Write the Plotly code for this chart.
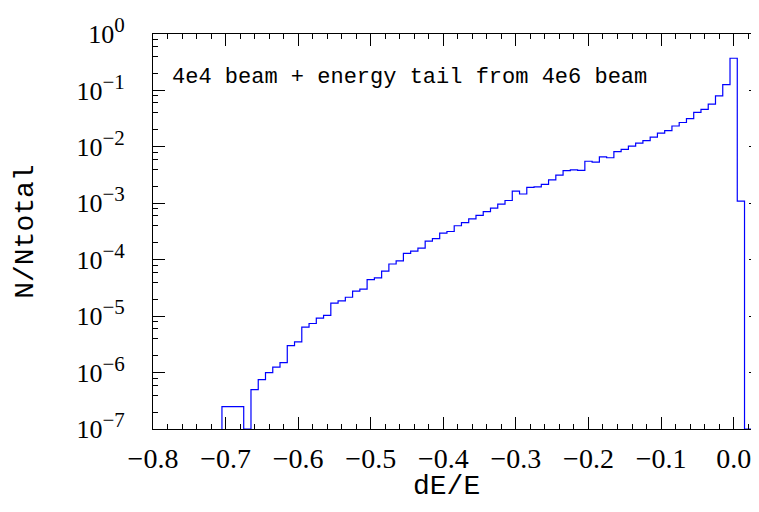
import numpy as np
import plotly.graph_objects as go

# Histogram of dE/E (bin width 0.01), fraction of particles per bin
bin_centers = [-0.70, -0.69, -0.68, -0.67, -0.66, -0.65, -0.64, -0.63, -0.62, -0.61,
               -0.60, -0.59, -0.58, -0.57, -0.56, -0.55, -0.54, -0.53, -0.52, -0.51,
               -0.50, -0.49, -0.48, -0.47, -0.46, -0.45, -0.44, -0.43, -0.42, -0.41,
               -0.40, -0.39, -0.38, -0.37, -0.36, -0.35, -0.34, -0.33, -0.32, -0.31,
               -0.30, -0.29, -0.28, -0.27, -0.26, -0.25, -0.24, -0.23, -0.22, -0.21,
               -0.20, -0.19, -0.18, -0.17, -0.16, -0.15, -0.14, -0.13, -0.12, -0.11,
               -0.10, -0.09, -0.08, -0.07, -0.06, -0.05, -0.04, -0.03, -0.02, -0.01,
               0.00, 0.01, 0.02, 0.03]
fractions = [2.5e-7, 2.5e-7, 2.5e-7, 0.0, 5.0e-7, 7.5e-7, 1.0e-6, 1.25e-6, 1.5e-6, 3.0e-6,
             3.5e-6, 6.4e-6, 7.4e-6, 9.2e-6, 1.03e-5, 1.7e-5, 1.87e-5, 2.16e-5, 2.77e-5, 3.0e-5,
             4.45e-5, 4.76e-5, 6.27e-5, 8.4e-5, 9.5e-5, 1.29e-4, 1.42e-4, 1.6e-4, 2.13e-4, 2.37e-4,
             2.96e-4, 3.16e-4, 4.0e-4, 4.56e-4, 5.28e-4, 6.1e-4, 7.14e-4, 8.24e-4, 9.66e-4, 1.12e-3,
             1.64e-3, 1.46e-3, 1.92e-3, 1.96e-3, 2.16e-3, 2.59e-3, 3.15e-3, 3.8e-3, 3.9e-3, 3.84e-3,
             5.56e-3, 5.35e-3, 6.67e-3, 6.41e-3, 8.25e-3, 9.0e-3, 1.03e-2, 1.16e-2, 1.29e-2, 1.49e-2,
             1.75e-2, 1.94e-2, 2.34e-2, 2.7e-2, 3.17e-2, 4.08e-2, 4.6e-2, 5.74e-2, 8.0e-2, 0.127,
             0.372, 1.09e-3, 0.0, 0.0]
bin_width = 0.01

x_tick_vals = [-0.8, -0.7, -0.6, -0.5, -0.4, -0.3, -0.2, -0.1, 0.0]
x_tick_text = ["\u22120.8", "\u22120.7", "\u22120.6", "\u22120.5", "\u22120.4",
               "\u22120.3", "\u22120.2", "\u22120.1", "0.0"]
y_tick_exps = [0, -1, -2, -3, -4, -5, -6, -7]

x_range = [-0.8, 0.0377]
y_floor = 1e-7

# build step outline from bins
edges_left = [c - bin_width / 2 for c in bin_centers]
last_edge = bin_centers[-1] + bin_width / 2
vals = [v if v > 0 else y_floor for v in fractions]
xs = [edges_left[0]] + edges_left + [last_edge]
ys = [y_floor] + vals + [vals[-1]]

fig = go.Figure()
fig.add_trace(go.Scatter(x=xs, y=ys, mode="lines", line=dict(color="#0000ff", width=1.2, shape="hv"),
                         showlegend=False, hoverinfo="skip"))

serif = "Liberation Serif"
mono = "Liberation Mono"
y_minor = [m * 10.0 ** e for e in range(-7, 0) for m in (2, 4, 6, 8)]
y_tick_text = ["10<sup><span style='font-size:21px'>%s</span></sup>" % str(e).replace("-", "\u2212")
               for e in y_tick_exps]

fig.update_layout(
    width=759, height=512,
    margin=dict(l=145, r=5, t=13, b=91),
    paper_bgcolor="white", plot_bgcolor="white",
    font=dict(family=serif, color="black", size=26),
    xaxis=dict(range=x_range, showgrid=False, zeroline=False, showline=True, linecolor="black",
               linewidth=1, mirror="ticks", ticks="inside", ticklen=12, tickwidth=1, tickcolor="black",
               tickvals=x_tick_vals, ticktext=x_tick_text, tickfont=dict(size=28, family=serif),
               ticklabelstandoff=4, ticklabeloverflow="allow",
               minor=dict(ticks="inside", ticklen=5, tickcolor="black", tickwidth=1, dtick=0.02,
                          tick0=0.0, showgrid=False)),
    yaxis=dict(type="log", range=[-7, 0], showgrid=False, zeroline=False, showline=True,
               linecolor="black", linewidth=1, mirror="ticks", ticks="inside", ticklen=12, tickwidth=1,
               tickcolor="black",
               tickvals=[10.0 ** e for e in y_tick_exps], ticktext=y_tick_text,
               tickfont=dict(size=26, family=serif), ticklabelstandoff=22, ticklabeloverflow="allow",
               minor=dict(ticks="inside", ticklen=5, tickcolor="black", tickwidth=1,
                          tickmode="array", tickvals=y_minor, showgrid=False)),
    annotations=[
        dict(text="4e4 beam + energy tail from 4e6 beam", xref="paper", yref="paper",
             x=0.028, y=0.89, xanchor="left", yanchor="middle", showarrow=False,
             font=dict(size=22, family=mono)),
        dict(text="dE/E", xref="paper", yref="paper", x=0.483, y=-0.146,
             xanchor="center", yanchor="middle", showarrow=False, font=dict(size=28, family=mono)),
        dict(text="N/Ntotal", xref="paper", yref="paper", x=-0.210, y=0.50, textangle=-90,
             xanchor="center", yanchor="middle", showarrow=False, font=dict(size=28, family=mono)),
    ],
)

fig.write_html("out.html")
